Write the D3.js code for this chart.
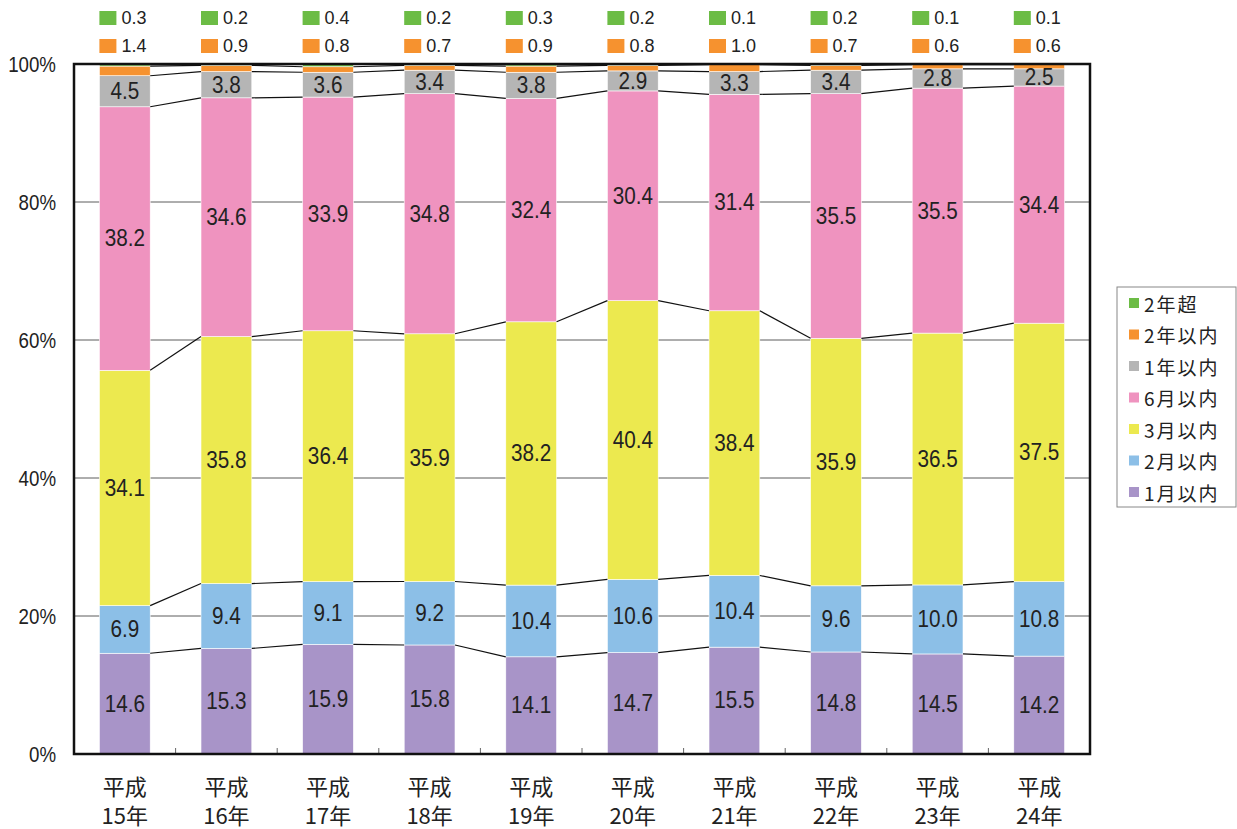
<!DOCTYPE html>
<html>
<head>
<meta charset="utf-8">
<script src="https://cdn.jsdelivr.net/npm/d3@7"></script>
<style>
  body { margin: 0; background: #fff; }
  svg { display: block; }
</style>
</head>
<body>
<div id="chart"></div>
<script>
// data (percent of each year)
var years = ['平成\n15年', '平成\n16年', '平成\n17年', '平成\n18年', '平成\n19年',
             '平成\n20年', '平成\n21年', '平成\n22年', '平成\n23年', '平成\n24年'];
var seriesNames = ['1月以内', '2月以内', '3月以内', '6月以内', '1年以内', '2年以内', '2年超'];
var m1  = [14.6, 15.3, 15.9, 15.8, 14.1, 14.7, 15.5, 14.8, 14.5, 14.2];
var m2  = [6.9, 9.4, 9.1, 9.2, 10.4, 10.6, 10.4, 9.6, 10.0, 10.8];
var m3  = [34.1, 35.8, 36.4, 35.9, 38.2, 40.4, 38.4, 35.9, 36.5, 37.5];
var m6  = [38.2, 34.6, 33.9, 34.8, 32.4, 30.4, 31.4, 35.5, 35.5, 34.4];
var y1  = [4.5, 3.8, 3.6, 3.4, 3.8, 2.9, 3.3, 3.4, 2.8, 2.5];
var y2  = [1.4, 0.9, 0.8, 0.7, 0.9, 0.8, 1.0, 0.7, 0.6, 0.6];
var y2p = [0.3, 0.2, 0.4, 0.2, 0.3, 0.2, 0.1, 0.2, 0.1, 0.1];
var yTicks = [0, 20, 40, 60, 80, 100];

var colors = ['#a894c8', '#8cbfe7', '#ece94f', '#ef93bf', '#b5b5b5', '#f6922f', '#6cbc45'];
var numFont = '"Liberation Sans", Arial, sans-serif';
var jpFont = '"Noto Sans CJK JP", sans-serif';

var width = 1237, height = 829;
var plotL = 74, plotR = 1090, plotT = 64, plotB = 754;

// build the normalized (100%) stack
var table = years.map(function(yr, i) {
  var vals = [m1[i], m2[i], m3[i], m6[i], y1[i], y2[i], y2p[i]];
  var total = d3.sum(vals);
  var row = { year: yr, i: i };
  seriesNames.forEach(function(s, k) { row[s] = vals[k] * 100 / total; row['raw' + k] = vals[k]; });
  return row;
});
var stack = d3.stack().keys(seriesNames)(table);

var x = d3.scaleBand().domain(years).range([plotL, plotR]).paddingInner(0.5).paddingOuter(0.25);
var y = d3.scaleLinear().domain([0, 100]).range([plotB, plotT]);

var svg = d3.select('#chart').append('svg')
  .attr('width', width).attr('height', height);

// gridlines
svg.append('g').selectAll('line')
  .data(yTicks.filter(function(t) { return t > 0 && t < 100; }))
  .enter().append('line')
  .attr('x1', plotL).attr('x2', plotR)
  .attr('y1', function(d) { return y(d); }).attr('y2', function(d) { return y(d); })
  .attr('stroke', '#333').attr('stroke-width', 0.8);

// bars
var layer = svg.append('g').selectAll('g')
  .data(stack).enter().append('g')
  .attr('fill', function(d, k) { return colors[k]; });

layer.selectAll('rect')
  .data(function(d) { return d; })
  .enter().append('rect')
  .attr('x', function(d) { return x(d.data.year); })
  .attr('width', x.bandwidth())
  .attr('y', function(d) { return y(d[1]); })
  .attr('height', function(d) { return y(d[0]) - y(d[1]); })
  .attr('stroke', '#fff').attr('stroke-width', 0.6);

// series lines between bars
stack.forEach(function(s) {
  for (var i = 0; i < s.length - 1; i++) {
    svg.append('line')
      .attr('x1', x(years[i]) + x.bandwidth()).attr('y1', y(s[i][1]))
      .attr('x2', x(years[i + 1])).attr('y2', y(s[i + 1][1]))
      .attr('stroke', '#111').attr('stroke-width', 1.2);
  }
});

// labels inside the bars (first five series), slightly condensed like the original
stack.slice(0, 5).forEach(function(s, k) {
  svg.append('g').selectAll('text')
    .data(s).enter().append('text')
    .attr('transform', function(d) {
      return 'translate(' + (x(d.data.year) + x.bandwidth() / 2) + ',' + ((y(d[0]) + y(d[1])) / 2) + ') scale(0.9,1)';
    })
    .attr('text-anchor', 'middle').attr('dominant-baseline', 'central')
    .style('font-family', numFont).style('font-size', '23px').style('fill', '#222')
    .text(function(d) { return d.data['raw' + k].toFixed(1); });
});

// labels above the plot for the two thin series
[[6, 18], [5, 46]].forEach(function(p) {
  var k = p[0], cy = p[1];
  var g = svg.append('g').selectAll('g')
    .data(table).enter().append('g')
    .attr('transform', function(d) { return 'translate(' + x(d.year) + ',' + cy + ')'; });
  g.append('rect').attr('x', 0).attr('y', -7).attr('width', 17).attr('height', 14).attr('fill', colors[k]);
  g.append('text').attr('x', 22).attr('y', 0).attr('dominant-baseline', 'central')
    .style('font-family', numFont).style('font-size', '18px').style('fill', '#222')
    .text(function(d) { return d['raw' + k].toFixed(1); });
});

// y axis labels
var yAxis = svg.append('g')
  .attr('transform', 'translate(' + plotL + ',0)')
  .call(d3.axisLeft(y).tickValues(yTicks).tickSize(0).tickPadding(18).tickFormat(function(d) { return d + '%'; }));
yAxis.select('.domain').remove();
yAxis.selectAll('text')
  .attr('transform', 'translate(-18,0) scale(0.85,1)').attr('x', 0)
  .style('font-family', numFont).style('font-size', '22px').style('fill', '#222');

// small ticks between categories on the bottom edge
var step = x.step();
svg.append('g').selectAll('line')
  .data(d3.range(1, years.length))
  .enter().append('line')
  .attr('x1', function(i) { return plotL + i * step; }).attr('x2', function(i) { return plotL + i * step; })
  .attr('y1', plotB).attr('y2', plotB - 6)
  .attr('stroke', '#666').attr('stroke-width', 1);

// x labels (two lines)
var xl = svg.append('g').selectAll('text')
  .data(years).enter().append('text')
  .attr('text-anchor', 'middle')
  .style('font-family', jpFont).style('font-size', '22px').style('fill', '#222');
xl.append('tspan').attr('x', function(d) { return x(d) + x.bandwidth() / 2; }).attr('y', 795)
  .text(function(d) { return d.split('\n')[0]; });
xl.append('tspan').attr('x', function(d) { return x(d) + x.bandwidth() / 2; }).attr('y', 824)
  .text(function(d) { return d.split('\n')[1]; });

// plot frame
svg.append('rect')
  .attr('x', plotL).attr('y', plotT).attr('width', plotR - plotL).attr('height', plotB - plotT)
  .attr('fill', 'none').attr('stroke', '#111').attr('stroke-width', 2.5);

// legend (top entry first)
var legend = svg.append('g').attr('transform', 'translate(1117,287)');
legend.append('rect').attr('width', 119).attr('height', 220)
  .attr('fill', '#fff').attr('stroke', '#888').attr('stroke-width', 1);
var items = legend.selectAll('.legend')
  .data(seriesNames.slice().reverse())
  .enter().append('g')
  .attr('class', 'legend')
  .attr('transform', function(d, i) { return 'translate(12,' + (16 + i * 31.5) + ')'; });
items.append('rect').attr('x', 0).attr('y', -5).attr('width', 10).attr('height', 10)
  .attr('fill', function(d) { return colors[seriesNames.indexOf(d)]; });
items.append('text').attr('x', 15).attr('y', 0).attr('dominant-baseline', 'central')
  .style('font-family', jpFont).style('font-size', '19px').style('letter-spacing', '2px').style('fill', '#222')
  .text(function(d) { return d; });
</script>
</body>
</html>
